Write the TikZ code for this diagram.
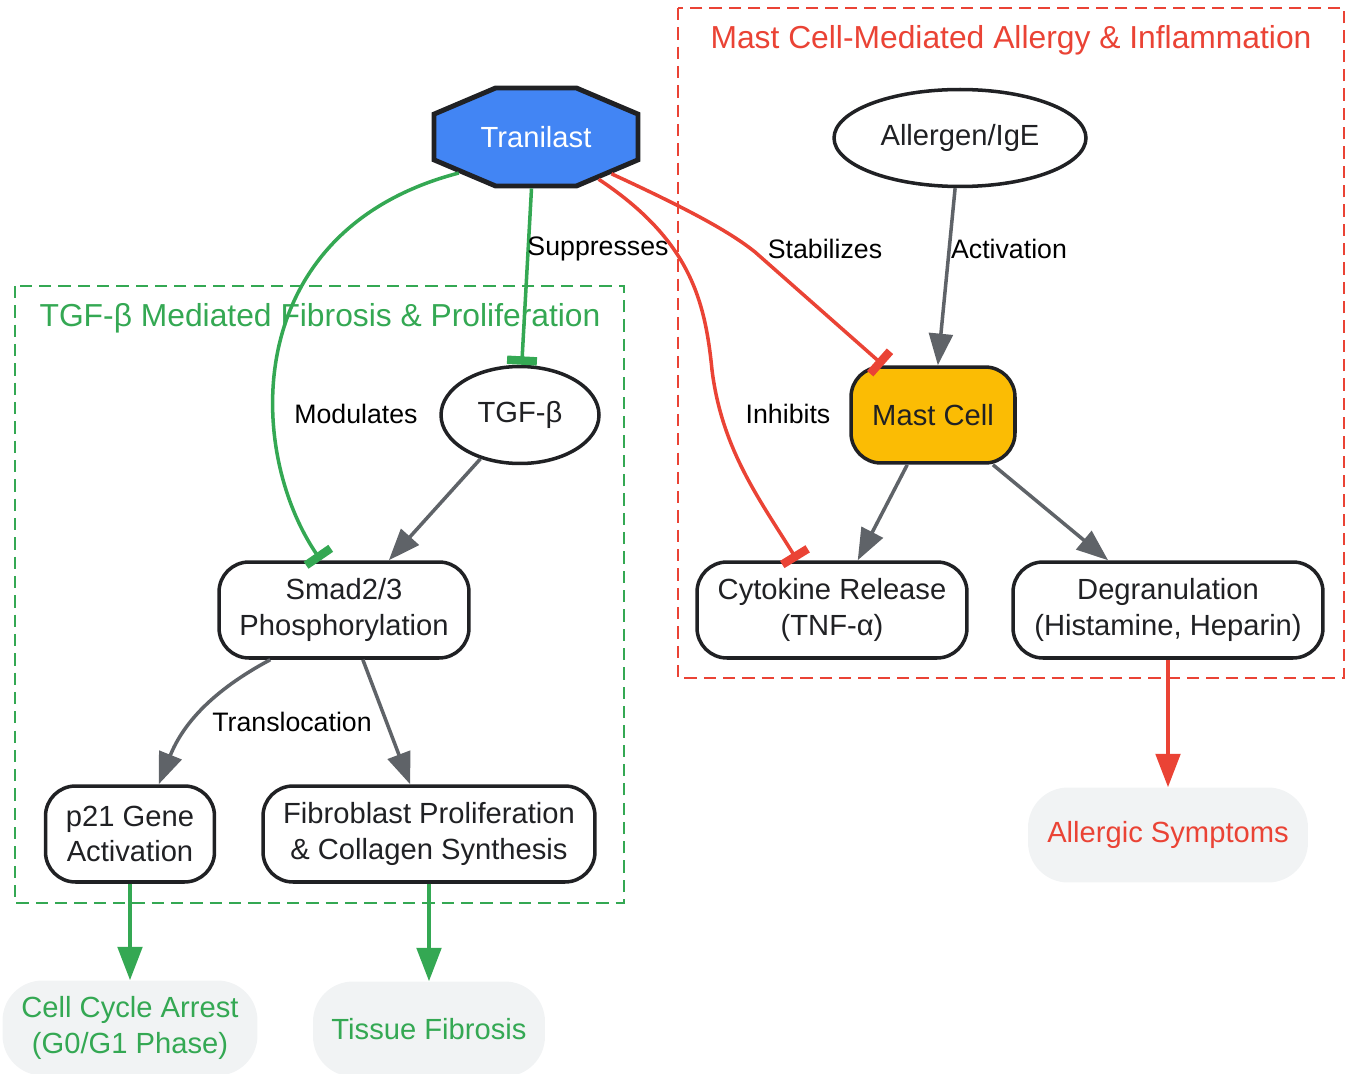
\documentclass[tikz,border=0pt]{standalone}
\usepackage{fontspec}
\setmainfont{Liberation Sans}
\usetikzlibrary{arrows.meta,shapes.misc,shapes.geometric}
\definecolor{gBlue}{HTML}{4285F4}
\definecolor{gYellow}{HTML}{FBBC04}
\definecolor{gGreen}{HTML}{34A853}
\definecolor{gRed}{HTML}{EA4335}
\definecolor{gGray}{HTML}{5F6368}
\definecolor{gDark}{HTML}{202124}
\definecolor{gLight}{HTML}{F1F3F4}
\tikzstyle{roundBox}=[shape = rectangle, rounded corners = 0.6cm, draw = gDark, line width = 2pt, fill = white, text = gDark, align = center, font = \fontsize{16.6}{20.4}\selectfont, minimum height = 1.92cm]
\tikzstyle{ovalBox}=[shape = ellipse, draw = gDark, line width = 2pt, fill = white, text = gDark, font = \fontsize{16.6}{20.4}\selectfont, minimum height = 1.94cm, inner sep = 0pt]
\tikzstyle{outBox}=[shape = rectangle, rounded corners = 0.8cm, fill = gLight, align = center, font = \fontsize{16.6}{20.4}\selectfont, minimum height = 1.9cm]

\begin{document}
\begin{tikzpicture}[x = 0.02cm, y = -0.02cm]
\tikzstyle{elabel}=[font = \fontsize{15.2}{18}\selectfont, text = black, inner sep = 1pt]
\tikzstyle{cluster}=[line width = 1.1pt, dash pattern = on 7pt off 4pt]
\tikzstyle{actEdge}=[draw = gGray, line width = 2pt, -{Triangle[length = 18pt, width = 13.5pt]}]
\tikzstyle{outGreen}=[draw = gGreen, line width = 2pt, -{Triangle[length = 19pt, width = 14pt]}]
\tikzstyle{outRed}=[draw = gRed, line width = 2pt, -{Triangle[length = 19pt, width = 14pt]}]
\tikzstyle{inhGreen}=[draw = gGreen, line width = 2pt, -{Bar[width = 17pt, line width = 4.8pt]}]
\tikzstyle{inhRed}=[draw = gRed, line width = 2pt, -{Bar[width = 17pt, line width = 4.8pt]}]
\useasboundingbox (0,0) rectangle (1348,1074);
\draw[cluster, gGreen] (15,286) rectangle (624,903);
\draw[cluster, gRed] (678,8) rectangle (1344,678);
\node[text = gGreen, font = \fontsize{18.1}{21}\selectfont] (fibLabel) at (320,318) {TGF-β Mediated Fibrosis \& Proliferation};
\node[text = gRed, font = \fontsize{18.1}{21}\selectfont] (mastLabel) at (1011,40) {Mast Cell-Mediated Allergy \& Inflammation};
\node[shape = chamfered rectangle, chamfered rectangle angle = 67, chamfered rectangle ysep = 0.5cm, minimum width = 4.08cm, minimum height = 1.96cm, inner sep = 0pt, draw = gDark, line width = 2.8pt, fill = gBlue, text = white, font = \fontsize{16.6}{20.4}\selectfont] (tranilast) at (536,137) {Tranilast};
\node[ovalBox, minimum width = 5.04cm] (allergen) at (960,138) {Allergen/IgE};
\node[ovalBox, minimum width = 3.16cm] (tgf) at (520,415) {TGF-β};
\node[roundBox, fill = gYellow, minimum width = 3.28cm] (mast) at (933,415) {Mast Cell};
\node[roundBox, minimum width = 5.0cm] (smad) at (344,610) {Smad2/3\\Phosphorylation};
\node[roundBox, minimum width = 5.4cm] (cyto) at (832,610) {Cytokine Release\\(TNF-α)};
\node[roundBox, minimum width = 6.2cm] (degran) at (1168,610) {Degranulation\\(Histamine, Heparin)};
\node[roundBox, minimum width = 3.38cm] (p21) at (130,834) {p21 Gene\\Activation};
\node[roundBox, minimum width = 6.64cm] (fibro) at (429,834) {Fibroblast Proliferation\\\& Collagen Synthesis};
\node[outBox, text = gRed, minimum width = 5.6cm] (allergic) at (1168,835) {Allergic Symptoms};
\node[outBox, text = gGreen, minimum width = 5.1cm] (arrest) at (130,1028) {Cell Cycle Arrest\\(G0/G1 Phase)};
\node[outBox, text = gGreen, minimum width = 4.64cm] (tissue) at (429,1029) {Tissue Fibrosis};
\draw[inhGreen] (tranilast.205) .. controls (240,230) and (245,450) .. (smad.115) node[elabel] at (356,414) {Modulates};
\draw[inhGreen] (tranilast.265) -- (tgf.88) node[elabel] at (598,249) {Suppresses};
\draw[inhRed] (tranilast.-34) .. controls (690,240) and (705,300) .. (712,370) .. controls (722,450) and (760,500) .. (cyto.125) node[elabel] at (788,414) {Inhibits};
\draw[inhRed] (tranilast.-26) .. controls (690,210) and (730,232) .. (755,252) -- (mast.135) node[elabel] at (825,249) {Stabilizes};
\draw[actEdge] (allergen) -- (mast) node[elabel] at (1009,249) {Activation};
\draw[actEdge] (tgf) -- (smad);
\draw[actEdge] (mast) -- (cyto);
\draw[actEdge] (mast) -- (degran);
\draw[actEdge] (smad.214) to[bend right = 20] (p21.60) node[elabel] at (292,722) {Translocation};
\draw[actEdge] (smad) -- (fibro);
\draw[outRed] (degran) -- (allergic);
\draw[outGreen] (p21) -- (arrest);
\draw[outGreen] (fibro) -- (tissue);
\end{tikzpicture}
\end{document}
